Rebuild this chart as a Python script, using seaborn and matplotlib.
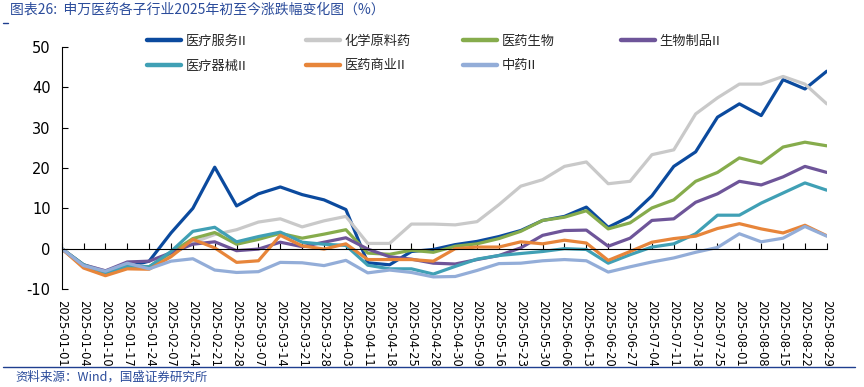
import matplotlib
matplotlib.use("Agg")
import matplotlib.pyplot as plt
import seaborn as sns
import pandas as pd
from matplotlib.lines import Line2D

dates = ['2025-01-01','2025-01-04','2025-01-10','2025-01-17','2025-01-24','2025-02-07',
         '2025-02-14','2025-02-21','2025-02-28','2025-03-07','2025-03-14','2025-03-21',
         '2025-03-28','2025-04-03','2025-04-11','2025-04-18','2025-04-25','2025-04-28',
         '2025-04-30','2025-05-09','2025-05-16','2025-05-23','2025-05-30','2025-06-06',
         '2025-06-13','2025-06-20','2025-06-27','2025-07-04','2025-07-11','2025-07-18',
         '2025-07-25','2025-08-01','2025-08-08','2025-08-15','2025-08-22','2025-08-29']

med_service = [0, -4.4, -6.4, -4.5, -3.1, 3.9, 10.0, 20.2, 10.6, 13.6, 15.3, 13.4, 12.1, 9.7,
               -3.5, -4.0, -0.7, -0.2, 1.0, 1.8, 3.0, 4.5, 7.0, 8.0, 10.3, 5.3, 8.0, 13.1,
               20.4, 24.0, 32.6, 35.9, 33.0, 41.9, 39.6, 44.0]
chem_api = [0, -4.0, -5.5, -4.0, -4.5, -1.5, 1.5, 3.5, 4.7, 6.6, 7.4, 5.4, 6.9, 8.0, 1.3, 1.3,
            6.1, 6.1, 5.9, 6.7, 10.9, 15.5, 17.1, 20.4, 21.5, 16.1, 16.7, 23.3, 24.5, 33.4,
            37.4, 40.8, 40.8, 42.7, 40.8, 35.9]
pharma_bio = [0, -4.0, -6.0, -4.5, -4.5, -1.0, 2.5, 4.0, 1.1, 2.3, 3.8, 2.6, 3.6, 4.7, -1.1,
              -1.4, -0.4, -0.9, 0.6, 1.2, 2.5, 4.3, 7.0, 7.8, 9.4, 4.9, 6.4, 10.1, 12.1, 16.7,
              18.9, 22.5, 21.2, 25.2, 26.4, 25.5]
bio_products = [0, -4.0, -5.5, -3.3, -3.1, -1.0, 1.1, 1.7, -0.5, -0.1, 1.6, 0.5, 1.6, 2.7,
                -0.1, -2.0, -2.6, -3.6, -3.8, -2.7, -1.7, 0.2, 3.3, 4.5, 4.6, 0.6, 2.6, 7.0,
                7.4, 11.5, 13.6, 16.7, 15.8, 17.8, 20.4, 18.9]
med_devices = [0, -4.0, -6.0, -4.3, -4.5, -0.7, 4.3, 5.3, 1.7, 3.0, 4.1, 1.6, 1.1, 0.8, -4.1,
               -5.0, -5.0, -6.3, -4.4, -2.6, -1.7, -1.2, -0.7, 0.0, -0.2, -3.6, -1.5, 0.4,
               1.2, 3.7, 8.3, 8.3, 11.3, 13.8, 16.3, 14.5]
pharma_comm = [0, -4.8, -6.7, -5.0, -5.1, -2.0, 2.3, 0.2, -3.4, -3.0, 3.3, 0.7, -0.1, 1.2,
               -2.7, -2.7, -2.7, -3.1, 0.0, 0.4, 0.4, 1.7, 1.2, 2.1, 1.4, -2.9, -0.7, 1.6,
               2.5, 3.1, 5.0, 6.2, 4.9, 3.9, 5.8, 3.2]
tcm = [0, -4.2, -5.6, -3.6, -5.0, -3.1, -2.5, -5.3, -5.9, -5.7, -3.4, -3.5, -4.2, -2.9, -6.0,
       -5.3, -5.9, -7.0, -6.9, -5.4, -3.7, -3.6, -3.0, -2.7, -3.0, -5.8, -4.5, -3.3, -2.3,
       -0.9, 0.3, 3.7, 1.7, 2.6, 5.5, 3.1]

names = ['医疗服务II', '化学原料药', '医药生物', '生物制品II', '医疗器械II', '医药商业II', '中药II']
series = [med_service, chem_api, pharma_bio, bio_products, med_devices, pharma_comm, tcm]
colors = ['#0B4A9E', '#C9C9C9', '#86AC4C', '#6E5599', '#40A0B5', '#E7853A', '#93ADD8']

sns.set_theme(style="white")
plt.rcParams['font.family'] = ['Noto Sans CJK SC', 'DejaVu Sans']
plt.rcParams['axes.unicode_minus'] = False

rows = []
for n, vals in zip(names, series):
    for i, v in enumerate(vals):
        rows.append({'idx': i, 'date': dates[i], 'value': v, 'name': n})
df = pd.DataFrame(rows)

W, H = 864, 387
fig = plt.figure(figsize=(W / 100, H / 100), dpi=100)
left, right, top, bottom = 61.7, 826.8, 47, 289
ax = fig.add_axes([left / W, 1 - bottom / H, (right - left) / W, (bottom - top) / H])

sns.lineplot(data=df, x='idx', y='value', hue='name', hue_order=names,
             palette=colors, linewidth=2.3, sort=False, legend=False, ax=ax)

ax.set_xlim(0, len(dates) - 1)
ax.set_ylim(-10, 50)
ax.set_yticks(range(-10, 51, 10))
ax.set_yticklabels([str(v) for v in range(-10, 51, 10)], fontsize=10.5,
                   family=['DejaVu Sans'], color='black')
ax.set_xlabel('')
ax.set_ylabel('')

for s in ['top', 'right']:
    ax.spines[s].set_visible(False)
ax.spines['left'].set_color('black')
ax.spines['left'].set_linewidth(0.8)
ax.spines['bottom'].set_position(('data', 0))
ax.spines['bottom'].set_color('black')
ax.spines['bottom'].set_linewidth(0.8)
ax.set_xticks(range(len(dates)))
ax.tick_params(axis='x', direction='in', length=4, width=0.8, color='black',
               labelbottom=False, bottom=True)
ax.tick_params(axis='y', direction='in', length=4, width=0.8, color='black', left=True,
               pad=8)

sec = ax.secondary_xaxis(0.0)
sec.set_xticks(range(len(dates)))
sec.set_xticklabels(dates, rotation=-90, fontsize=8.3, family=['DejaVu Sans'],
                    color='black')
sec.tick_params(axis='x', length=0, pad=8)
sec.spines['bottom'].set_visible(False)

# legends (one per cell, Excel-like fixed grid)
cols_x = [147, 306, 463, 621]
rows_y = [41, 66]
grid = [(0, 0), (1, 0), (2, 0), (3, 0), (0, 1), (1, 1), (2, 1)]
for k, (c, r) in enumerate(grid):
    h = Line2D([0], [0], color=colors[k], linewidth=3.2)
    fig.legend([h], [names[k]], loc='center left',
               bbox_to_anchor=(cols_x[c] / W, 1 - rows_y[r] / H),
               frameon=False, borderpad=0, borderaxespad=0, handlelength=2.6,
               handletextpad=0.3, prop={'size': 9.5, 'family': ['Noto Sans CJK SC', 'DejaVu Sans']})

title_color = '#2B4C9B'
fig.text(10 / W, 1 - 10 / H, '图表26:  申万医药各子行业2025年初至今涨跌幅变化图（%）',
         fontsize=10, color=title_color, va='center', ha='left')
fig.add_artist(Line2D([3 / W, 8 / W], [1 - 23 / H, 1 - 23 / H], color='#1F3F8F', linewidth=1))
fig.add_artist(Line2D([3 / W, 855 / W], [1 - 367 / H, 1 - 367 / H], color='#1F3F8F', linewidth=1))
fig.text(15 / W, 1 - 377 / H, '资料来源：Wind，国盛证券研究所', fontsize=9,
         color=title_color, va='center', ha='left')

fig.savefig('out.png', dpi=100)
